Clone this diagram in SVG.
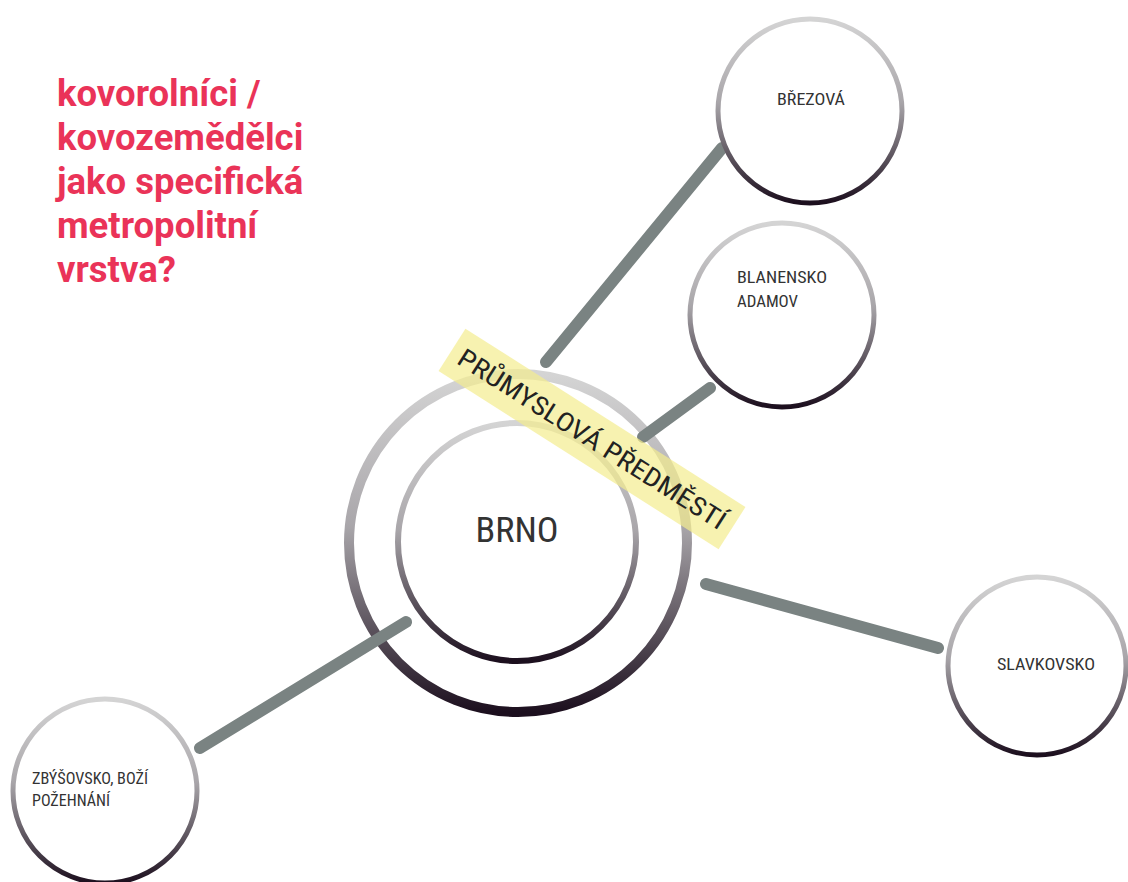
<svg xmlns="http://www.w3.org/2000/svg" width="1128" height="882" viewBox="0 0 1128 882">
  <defs>
    <linearGradient id="ring" x1="0" y1="0" x2="0" y2="1">
      <stop offset="0" stop-color="#d4d4d4"/>
      <stop offset="0.45" stop-color="#a9a6aa"/>
      <stop offset="1" stop-color="#1c0f1e"/>
    </linearGradient>
    <style>
      .node { fill: #ffffff; stroke: url(#ring); }
      .small { stroke-width: 5; }
      .lbl { font-family: "Roboto Condensed", Roboto, "DejaVu Sans Condensed", sans-serif; font-size: 17px; fill: #333333; }
      .conn { stroke: #7a8382; stroke-width: 12; stroke-linecap: round; fill: none; }
      .title { font-family: Roboto, "Liberation Sans", sans-serif; font-weight: bold; font-size: 36.5px; fill: #ea3358; }
    </style>
  </defs>
  <rect width="1128" height="882" fill="#ffffff"/>

  <g id="title">
    <text class="title" x="57" y="106">kovorolníci /</text>
    <text class="title" x="57" y="150">kovozemědělci</text>
    <text class="title" x="57" y="194">jako specifická</text>
    <text class="title" x="57" y="238">metropolitní</text>
    <text class="title" x="57" y="282">vrstva?</text>
  </g>

  <g id="brno-outer">
    <circle cx="518" cy="543" r="169" fill="none" stroke="url(#ring)" stroke-width="10"/>
  </g>

  <g id="connectors">
    <line class="conn" x1="546" y1="362" x2="722" y2="148"/>
    <line class="conn" x1="643" y1="437" x2="710" y2="388"/>
    <line class="conn" x1="706" y1="584" x2="938" y2="648"/>
    <line class="conn" x1="200" y1="748" x2="406" y2="622"/>
  </g>

  <g id="brno">
    <circle class="node" cx="517" cy="542" r="119" stroke-width="6"/>
    <text class="lbl" x="517" y="542" style="font-size:35px" text-anchor="middle" textLength="83" lengthAdjust="spacingAndGlyphs">BRNO</text>
  </g>

  <g id="brezova">
    <circle class="node small" cx="810" cy="111" r="92"/>
    <text class="lbl" x="811" y="105" text-anchor="middle" textLength="68" lengthAdjust="spacingAndGlyphs">BŘEZOVÁ</text>
  </g>

  <g id="blanensko">
    <circle class="node small" cx="782" cy="315" r="92"/>
    <text class="lbl" x="737" y="283" textLength="90" lengthAdjust="spacingAndGlyphs">BLANENSKO</text>
    <text class="lbl" x="737" y="307" textLength="61" lengthAdjust="spacingAndGlyphs">ADAMOV</text>
  </g>

  <g id="slavkovsko">
    <circle class="node small" cx="1037" cy="666" r="89"/>
    <text class="lbl" x="997" y="670" textLength="98" lengthAdjust="spacingAndGlyphs">SLAVKOVSKO</text>
  </g>

  <g id="zbysovsko">
    <circle class="node small" cx="105" cy="791" r="92"/>
    <text class="lbl" x="32" y="784" textLength="116" lengthAdjust="spacingAndGlyphs">ZBÝŠOVSKO, BOŽÍ</text>
    <text class="lbl" x="32" y="806" textLength="78" lengthAdjust="spacingAndGlyphs">POŽEHNÁNÍ</text>
  </g>

  <g id="label" transform="translate(592 439) rotate(32.5)">
    <rect x="-166" y="-25" width="332" height="50" fill="#f3ec8f" fill-opacity="0.7"/>
    <text class="lbl" x="0" y="9" style="font-size:26px;fill:#222222" text-anchor="middle" textLength="312" lengthAdjust="spacingAndGlyphs">PRŮMYSLOVÁ PŘEDMĚSTÍ</text>
  </g>
</svg>
